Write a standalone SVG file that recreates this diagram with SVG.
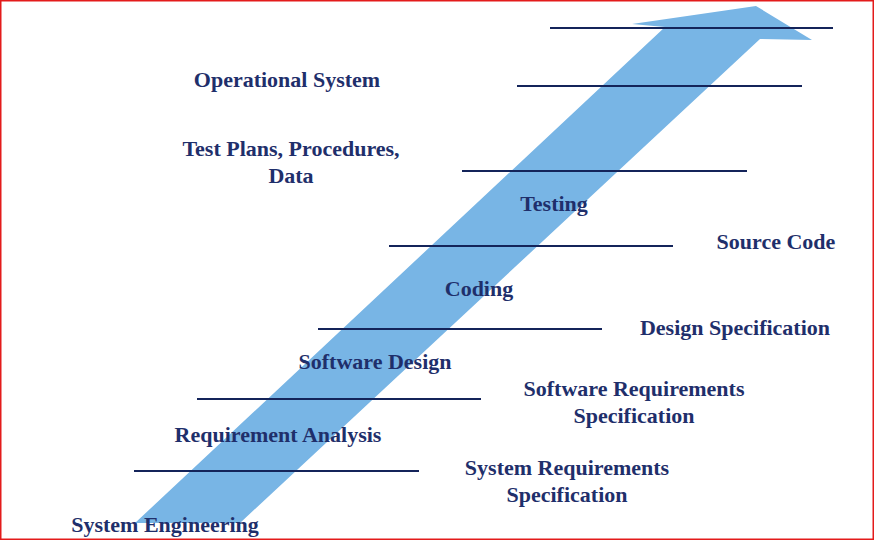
<svg xmlns="http://www.w3.org/2000/svg" width="875" height="541" viewBox="0 0 875 541">
  <style>
    .lbl { font-family: "Liberation Serif", "Times New Roman", serif; font-weight: bold; font-size: 22px; fill: #1F2F6B; text-anchor: middle; }
    .rule { stroke: #14245A; stroke-width: 1.2; fill: none; shape-rendering: crispEdges; }
    .arrow { fill: #78B5E5; }
  </style>
  <rect x="0.75" y="0.75" width="872.5" height="538.5" fill="#FFFFFF" stroke="#E31B1B" stroke-width="1.5"/>

  <!-- big rising arrow -->
  <g id="arrow">
    <polygon class="arrow" points="135,523 665,27 632,24 756,6 812,40 760,39 240,523"/>
  </g>

  <!-- horizontal stage rules -->
  <g id="connectors">
    <line class="rule" x1="550" y1="28" x2="833" y2="28"/>
    <line class="rule" x1="517" y1="86" x2="802" y2="86"/>
    <line class="rule" x1="462" y1="171" x2="747" y2="171"/>
    <line class="rule" x1="389" y1="246" x2="673" y2="246"/>
    <line class="rule" x1="318" y1="329" x2="602" y2="329"/>
    <line class="rule" x1="197" y1="399" x2="481" y2="399"/>
    <line class="rule" x1="134" y1="471" x2="419" y2="471"/>
  </g>

  <g id="operational-system"><text class="lbl" x="287" y="87">Operational System</text></g>
  <g id="test-plans"><text class="lbl" x="291" y="156">Test Plans, Procedures,</text><text class="lbl" x="291" y="183">Data</text></g>
  <g id="testing"><text class="lbl" x="554" y="211">Testing</text></g>
  <g id="source-code"><text class="lbl" x="776" y="249">Source Code</text></g>
  <g id="coding"><text class="lbl" x="479" y="296">Coding</text></g>
  <g id="design-specification"><text class="lbl" x="735" y="335">Design Specification</text></g>
  <g id="software-design"><text class="lbl" x="375" y="369">Software Design</text></g>
  <g id="software-requirements"><text class="lbl" x="634" y="396">Software Requirements</text><text class="lbl" x="634" y="423">Specification</text></g>
  <g id="requirement-analysis"><text class="lbl" x="278" y="442">Requirement Analysis</text></g>
  <g id="system-requirements"><text class="lbl" x="567" y="475">System Requirements</text><text class="lbl" x="567" y="502">Specification</text></g>
  <g id="system-engineering"><text class="lbl" x="165" y="532">System Engineering</text></g>
</svg>
